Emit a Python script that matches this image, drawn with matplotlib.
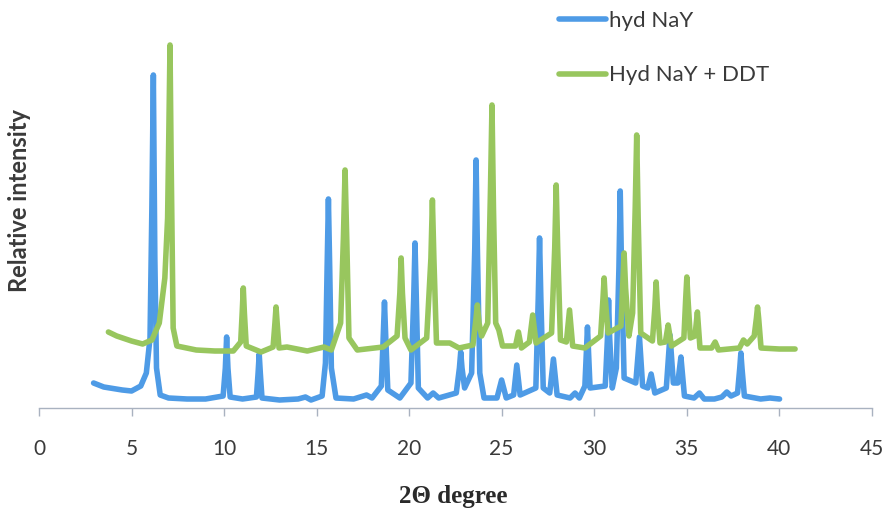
import matplotlib
matplotlib.use("Agg")
import matplotlib.pyplot as plt

# ---- data (2-theta in degrees, intensity in arbitrary units) ----
blue_x = [2.95, 3.5, 4.5, 5.0, 5.5, 5.8, 6.0, 6.1, 6.18, 6.26, 6.35, 6.55, 7.0, 8.0, 9.0,
          9.95, 10.07, 10.14, 10.21, 10.33, 11.0, 11.75, 11.84, 11.9, 11.96, 12.05, 13.0, 14.0,
          14.4, 14.7, 15.3, 15.48, 15.57, 15.64, 15.71, 15.8, 16.05, 17.0, 17.7, 18.0, 18.5,
          18.6, 18.67, 18.74, 18.85, 19.5, 20.1, 20.25, 20.32, 20.39, 20.5, 21.0, 21.3, 21.6,
          22.55, 22.72, 22.79, 22.86, 23.0, 23.38, 23.55, 23.62, 23.69, 23.82, 24.05, 24.75,
          25.0, 25.25, 25.65, 25.82, 26.0, 26.85, 26.98, 27.05, 27.12, 27.25, 27.6, 27.8, 28.0,
          28.7, 28.97, 29.2, 29.5, 29.64, 29.78, 30.6, 30.72, 30.78, 30.84, 30.98, 31.2, 31.34,
          31.41, 31.48, 31.62, 32.25, 32.45, 32.62, 32.9, 33.08, 33.28, 33.9, 34.1, 34.28,
          34.52, 34.69, 34.88, 35.4, 35.69, 35.95, 36.5, 36.9, 37.17, 37.4, 37.75, 37.87,
          37.93, 37.99, 38.12, 39.0, 39.5, 40.02]
blue_y = [25, 21, 18, 17, 22, 35, 70, 200, 333, 150, 40, 13, 10, 9, 9,
          12, 40, 71, 40, 11, 9, 11, 35, 54, 35, 10, 8, 9,
          11, 8, 12, 45, 140, 209, 140, 40, 10, 9, 13, 10, 22,
          70, 106, 70, 18, 10, 25, 110, 165, 110, 20, 10, 15, 10,
          15, 40, 56, 40, 20, 35, 160, 248, 160, 35, 10, 10,
          28, 10, 13, 43, 13, 20, 110, 170, 110, 20, 15, 49, 13,
          10, 15, 10, 22, 81, 20, 22, 70, 108, 70, 20, 40, 140,
          217, 140, 30, 25, 71, 22, 20, 34, 15, 20, 73, 25,
          25, 51, 12, 10, 15, 9, 9, 11, 16, 12, 15, 40,
          55, 40, 12, 9, 10, 9]

green_x = [3.75, 4.2, 5.0, 5.6, 6.1, 6.5, 6.8, 6.95, 7.02, 7.08, 7.14, 7.25, 7.45, 8.5, 9.5,
           10.5, 10.9, 10.98, 11.04, 11.1, 11.2, 12.0, 12.65, 12.75, 12.81, 12.87, 12.97, 13.4,
           14.5, 15.4, 15.8, 16.3, 16.45, 16.54, 16.63, 16.75, 17.2, 18.6, 19.35, 19.5, 19.57,
           19.64, 19.78, 20.1, 20.95, 21.18, 21.26, 21.34, 21.48, 22.2, 22.7, 23.45, 23.62,
           23.69, 23.78, 23.92, 24.25, 24.4, 24.48, 24.56, 24.68, 24.85, 25.05, 25.75, 25.91,
           26.07, 26.5, 26.68, 26.86, 27.7, 27.87, 27.95, 28.03, 28.18, 28.5, 28.67, 28.84,
           29.5, 30.35, 30.48, 30.54, 30.6, 30.75, 31.45, 31.56, 31.62, 31.7, 31.88, 32.08,
           32.22, 32.3, 32.38, 32.52, 33.15, 33.28, 33.35, 33.42, 33.56, 33.85, 34.0, 34.18,
           34.85, 34.95, 35.01, 35.07, 35.2, 35.45, 35.58, 35.72, 36.35, 36.54, 36.72, 37.85,
           38.07, 38.27, 38.65, 38.77, 38.83, 38.89, 39.02, 40.0, 40.86]
green_y = [76, 72, 67, 64, 68, 85, 130, 190, 280, 363, 250, 80, 62, 58, 57,
           57, 66, 95, 120, 95, 62, 56, 61, 85, 101, 85, 60, 61,
           57, 61, 58, 85, 170, 238, 170, 70, 58, 61, 72, 115, 150,
           115, 70, 58, 70, 150, 208, 150, 65, 65, 60, 63, 90,
           103, 85, 72, 85, 220, 303, 200, 85, 78, 62, 62, 76,
           60, 66, 93, 65, 75, 160, 223, 160, 68, 66, 98, 62,
           60, 72, 110, 130, 110, 75, 82, 130, 155, 120, 72, 95,
           200, 273, 190, 75, 67, 100, 126, 100, 65, 66, 83, 62,
           70, 110, 131, 110, 70, 72, 96, 60, 60, 66, 58, 60,
           68, 64, 72, 90, 101, 90, 60, 59, 59]

series_labels = ["hyd NaY", "Hyd NaY + DDT"]
x_ticks = [0, 5, 10, 15, 20, 25, 30, 35, 40, 45]

BLUE = "#4E9BE6"
GREEN = "#98C65E"
TXT = "#3A3A3A"
AXC = "#A9B2C0"

W, H = 888, 512
fig = plt.figure(figsize=(W / 100, H / 100), dpi=100)
ax = fig.add_axes([39 / W, 1 - 408 / H, (871.7 - 39) / W, 408 / H])

l1, = ax.plot(blue_x, blue_y, color=BLUE, lw=4.0, solid_joinstyle="round",
              solid_capstyle="round", label=series_labels[0])
l2, = ax.plot(green_x, green_y, color=GREEN, lw=4.0, solid_joinstyle="round",
              solid_capstyle="round", label=series_labels[1])

ax.set_xlim(0, 45)
ax.set_ylim(0, 408)
ax.set_xticks(x_ticks)
ax.set_xticklabels([str(t) for t in x_ticks], fontfamily="Lato", fontsize=15, color=TXT)
ax.set_yticks([])
for s in ["top", "right", "left"]:
    ax.spines[s].set_visible(False)
ax.spines["bottom"].set_color(AXC)
ax.spines["bottom"].set_linewidth(1.0)
ax.tick_params(axis="x", direction="out", length=6, width=1.0, color=AXC, pad=16)
ax.patch.set_alpha(0)

fig.text(20 / W, 1 - 200 / H, "Relative intensity", rotation=90, ha="center", va="center",
         fontfamily="Lato", fontweight="bold", fontsize=17, color=TXT)
fig.text(453 / W, 1 - 497 / H, "2\u0398 degree", ha="center", va="center",
         fontfamily="Liberation Serif", fontweight="bold", fontsize=18, color="#2A2A2A")

leg = fig.legend(handles=[l1, l2], loc="upper left", bbox_to_anchor=(539 / W, 1 + 9 / H),
                 frameon=False, prop={"family": "Lato", "size": 16}, handlelength=2.1,
                 handletextpad=0.15, labelspacing=1.55)
for t in leg.get_texts():
    t.set_color(TXT)

fig.savefig("out.png", dpi=100)
